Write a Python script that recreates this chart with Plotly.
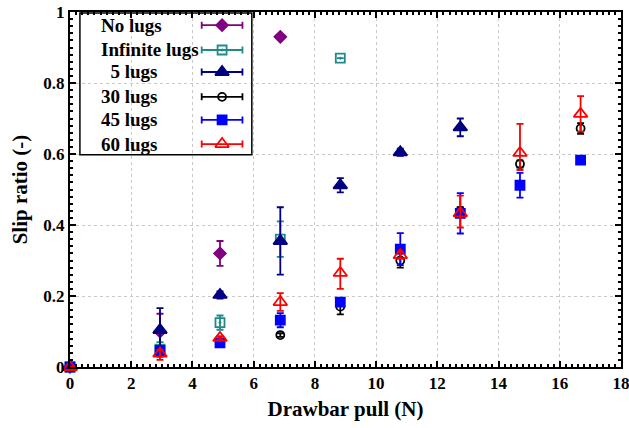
import plotly.graph_objects as go

# ---- data ----
pull = [0, 2.94, 4.9, 6.87, 8.83, 10.79, 12.75, 14.7, 16.68]

no_lugs_x = [0, 2.94, 4.9, 6.87]
no_lugs_y = [0, 0.10, 0.32, 0.93]
no_lugs_err = [0, 0.05, 0.035, 0]

inf_lugs_x = [0, 2.94, 4.9, 6.87, 8.83]
inf_lugs_y = [0, 0.05, 0.125, 0.36, 0.87]
inf_lugs_err = [0, 0.02, 0.02, 0.05, 0]

lugs5_x = [0, 2.94, 4.9, 6.87, 8.83, 10.79, 12.75]
lugs5_y = [0, 0.104, 0.203, 0.355, 0.512, 0.605, 0.675]
lugs5_err = [0, 0.062, 0.01, 0.095, 0.02, 0.01, 0.025]

lugs30_x = pull
lugs30_y = [0, 0.04, 0.07, 0.09, 0.17, 0.30, 0.44, 0.572, 0.672]
lugs30_err = [0, 0.01, 0.005, 0.005, 0.022, 0.02, 0.01, 0.01, 0.015]

lugs45_x = pull
lugs45_y = [0, 0.047, 0.068, 0.132, 0.183, 0.332, 0.433, 0.512, 0.583]
lugs45_err = [0, 0.01, 0.005, 0.02, 0.01, 0.045, 0.057, 0.035, 0.005]

lugs60_x = pull
lugs60_y = [0, 0.038, 0.082, 0.183, 0.265, 0.315, 0.433, 0.603, 0.713]
lugs60_err_plus = [0, 0.01, 0.005, 0.025, 0.04, 0.01, 0.05, 0.082, 0.05]
lugs60_err_minus = [0, 0.018, 0.005, 0.025, 0.045, 0.01, 0.04, 0.048, 0.05]

legend_labels = ["No lugs", "Infinite lugs", "  5 lugs", "30 lugs", "45 lugs", "60 lugs"]
x_ticks = [0, 2, 4, 6, 8, 10, 12, 14, 16, 18]
y_ticks = [0, 0.2, 0.4, 0.6, 0.8, 1]

# ---- styles ----
styles = [
    dict(color="#800080", symbol="diamond", size=9),
    dict(color="#1f8a8a", symbol="square-open-dot", size=9),
    dict(color="#000080", symbol="triangle-up", size=12),
    dict(color="#000000", symbol="circle-open", size=8),
    dict(color="#0000ff", symbol="square", size=9),
    dict(color="#ff0000", symbol="triangle-up-open", size=12),
]

series = [
    (no_lugs_x, no_lugs_y, no_lugs_err, no_lugs_err),
    (inf_lugs_x, inf_lugs_y, inf_lugs_err, inf_lugs_err),
    (lugs5_x, lugs5_y, lugs5_err, lugs5_err),
    (lugs30_x, lugs30_y, lugs30_err, lugs30_err),
    (lugs45_x, lugs45_y, lugs45_err, lugs45_err),
    (lugs60_x, lugs60_y, lugs60_err_plus, lugs60_err_minus),
]

fig = go.Figure()
font_fam = "Liberation Serif"

for (xs, ys, ep, em), st, name in zip(series, styles, legend_labels):
    fig.add_trace(go.Scatter(
        x=xs, y=ys, mode="markers", name=name, showlegend=False,
        cliponaxis=False,
        marker=dict(color=st["color"], symbol=st["symbol"], size=st["size"],
                    line=dict(color=st["color"], width=1.8)),
        error_y=dict(type="data", array=ep, arrayminus=em, symmetric=False,
                     color=st["color"], thickness=1.8, width=3.5),
    ))

# ---- custom legend (symbols on right of text, like the original) ----
leg_y = [0.963, 0.893, 0.831, 0.761, 0.696, 0.628]
fig.add_shape(type="rect", xref="paper", yref="paper", x0=0.018, x1=0.33,
              y0=0.598, y1=0.997, line=dict(width=0),
              fillcolor="white", layer="between")
fig.add_shape(type="rect", xref="paper", yref="paper", x0=0.018, x1=0.33,
              y0=0.598, y1=0.997, line=dict(color="black", width=1.5),
              fillcolor="rgba(0,0,0,0)", layer="above")
for st, name, yy in zip(styles, legend_labels, leg_y):
    fig.add_trace(go.Scatter(
        x=[0.276], y=[yy], xaxis="x2", yaxis="y2", mode="markers",
        showlegend=False, cliponaxis=False, hoverinfo="skip",
        marker=dict(color=st["color"], symbol=st["symbol"], size=st["size"],
                    line=dict(color=st["color"], width=1.8)),
        error_x=dict(type="constant", value=0.037, color=st["color"],
                     thickness=1.8, width=3.5),
    ))
    fig.add_annotation(x=0.052, y=yy, xref="paper", yref="paper",
                       text=name.replace(" ", "&nbsp;"),
                       showarrow=False, xanchor="left", yanchor="middle",
                       font=dict(family=font_fam, size=19, color="black", weight="bold"))

axis_common = dict(
    showline=True, linecolor="black", linewidth=2, mirror="allticks",
    ticks="inside", ticklen=6, tickwidth=1.5, tickcolor="black",
    showgrid=True, gridcolor="#c8c8c8", griddash="dot", gridwidth=1,
    zeroline=False, automargin=False, ticklabeloverflow="allow",
    tickfont=dict(family=font_fam, size=17, color="black", weight="bold"),
)

fig.update_layout(
    width=629, height=428,
    margin=dict(l=70, r=8, t=12, b=61),
    paper_bgcolor="white", plot_bgcolor="white",
    showlegend=False,
    xaxis=dict(range=[0, 18], tickvals=x_ticks,
               minor=dict(dtick=0.2, ticks="inside", ticklen=3, tickcolor="black", showgrid=False),
               title=dict(text="Drawbar pull (N)", standoff=9,
                          font=dict(family=font_fam, size=21, color="black", weight="bold")),
               **axis_common),
    yaxis=dict(range=[0, 1], tickvals=y_ticks,
               minor=dict(dtick=0.02, ticks="inside", ticklen=3, tickcolor="black", showgrid=False),
               title=dict(text="Slip ratio (-)", standoff=10,
                          font=dict(family=font_fam, size=21, color="black", weight="bold")),
               **axis_common),
    xaxis2=dict(range=[0, 1], overlaying="x", visible=False),
    yaxis2=dict(range=[0, 1], overlaying="y", visible=False),
)

fig.write_html("out.html", config={"displayModeBar": False},
               post_script="document.body.style.margin='0';")
